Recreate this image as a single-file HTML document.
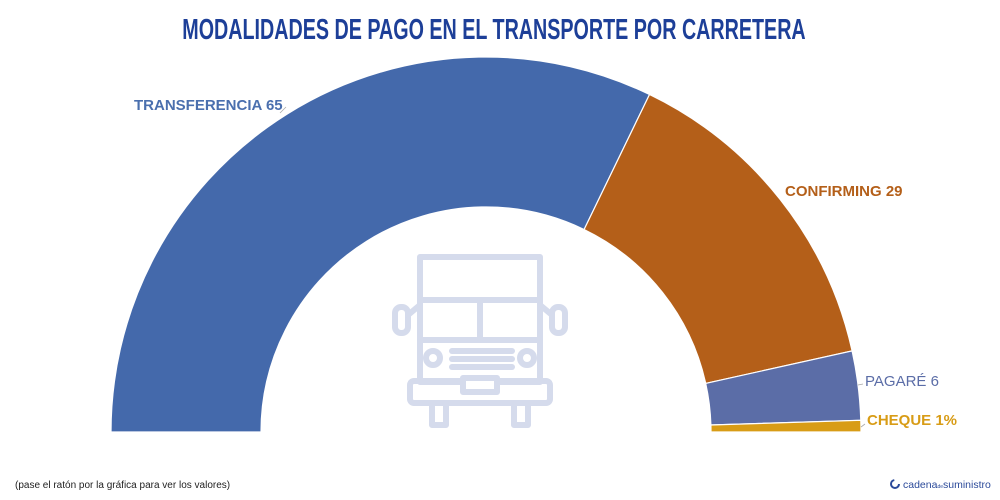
<!DOCTYPE html>
<html><head><meta charset="utf-8"><style>
html,body{margin:0;padding:0;background:#fff;width:1000px;height:500px;overflow:hidden}
</style></head><body>
<svg width="1000" height="500" viewBox="0 0 1000 500" xmlns="http://www.w3.org/2000/svg" font-family="Liberation Sans, sans-serif">
<text x="494" y="39" text-anchor="middle" font-size="29" font-weight="bold" fill="#1d3f98" transform="translate(494 0) scale(0.68 1) translate(-494 0)">MODALIDADES DE PAGO EN EL TRANSPORTE POR CARRETERA</text>
<g stroke="#fff" stroke-width="1.2">
<path d="M111,432 A375,375 0 0 1 649.5,94.5 L584.1,229.5 A225,225 0 0 0 261,432 Z" fill="#4469ab"/>
<path d="M649.5,94.5 A375,375 0 0 1 852.1,350.9 L705.7,383.4 A225,225 0 0 0 584.1,229.5 Z" fill="#b45f19"/>
<path d="M852.1,350.9 A375,375 0 0 1 860.8,420.3 L710.9,425 A225,225 0 0 0 705.7,383.4 Z" fill="#5b6da7"/>
<path d="M860.8,420.3 A375,375 0 0 1 861,432 L711,432 A225,225 0 0 0 710.9,425 Z" fill="#d89c16"/>
</g>
<g font-size="15" font-weight="bold">
<text x="134" y="110" fill="#4a6fae">TRANSFERENCIA 65</text>
<text x="785" y="196" fill="#b45f19">CONFIRMING 29</text>
<text x="865" y="386" fill="#5b6da7" font-weight="normal">PAGARÉ 6</text>
<text x="867" y="425" fill="#d89c16">CHEQUE 1%</text>
</g>
<g stroke="#aaa" stroke-width="0.8" fill="none">
<path d="M286,107 L280,113"/><path d="M863,384 L858,385"/><path d="M865,424 L861,427"/>
</g>
<g stroke="#d5dbec" stroke-width="6" fill="none" stroke-linecap="round" stroke-linejoin="round">
<rect x="420" y="257" width="120" height="43"/>
<rect x="420" y="300" width="120" height="82"/>
<line x1="420" y1="340" x2="540" y2="340"/>
<line x1="480" y1="300" x2="480" y2="340"/>
<rect x="395" y="307" width="13" height="26" rx="6"/>
<rect x="552" y="307" width="13" height="26" rx="6"/>
<line x1="408" y1="315" x2="420" y2="305"/><line x1="552" y1="315" x2="540" y2="305"/>
<circle cx="433" cy="358" r="7"/><circle cx="527" cy="358" r="7"/>
<line x1="452" y1="351" x2="512" y2="351"/><line x1="452" y1="359" x2="512" y2="359"/><line x1="452" y1="367" x2="512" y2="367"/>
<rect x="410" y="381" width="140" height="22" rx="4"/>
<rect x="463" y="378" width="34" height="14" fill="#fff"/>
<rect x="432" y="403" width="14" height="22"/>
<rect x="514" y="403" width="14" height="22"/>
</g>
<text x="15" y="488" font-size="10" fill="#222">(pase el ratón por la gráfica para ver los valores)</text>
<circle cx="895" cy="484" r="4" fill="none" stroke="#2b4a9a" stroke-width="2" stroke-dasharray="18 8"/>
<text x="903" y="488" font-size="10.5" fill="#2b4a9a">cadena<tspan font-size="5">de</tspan>suministro</text>
</svg>
</body></html>
